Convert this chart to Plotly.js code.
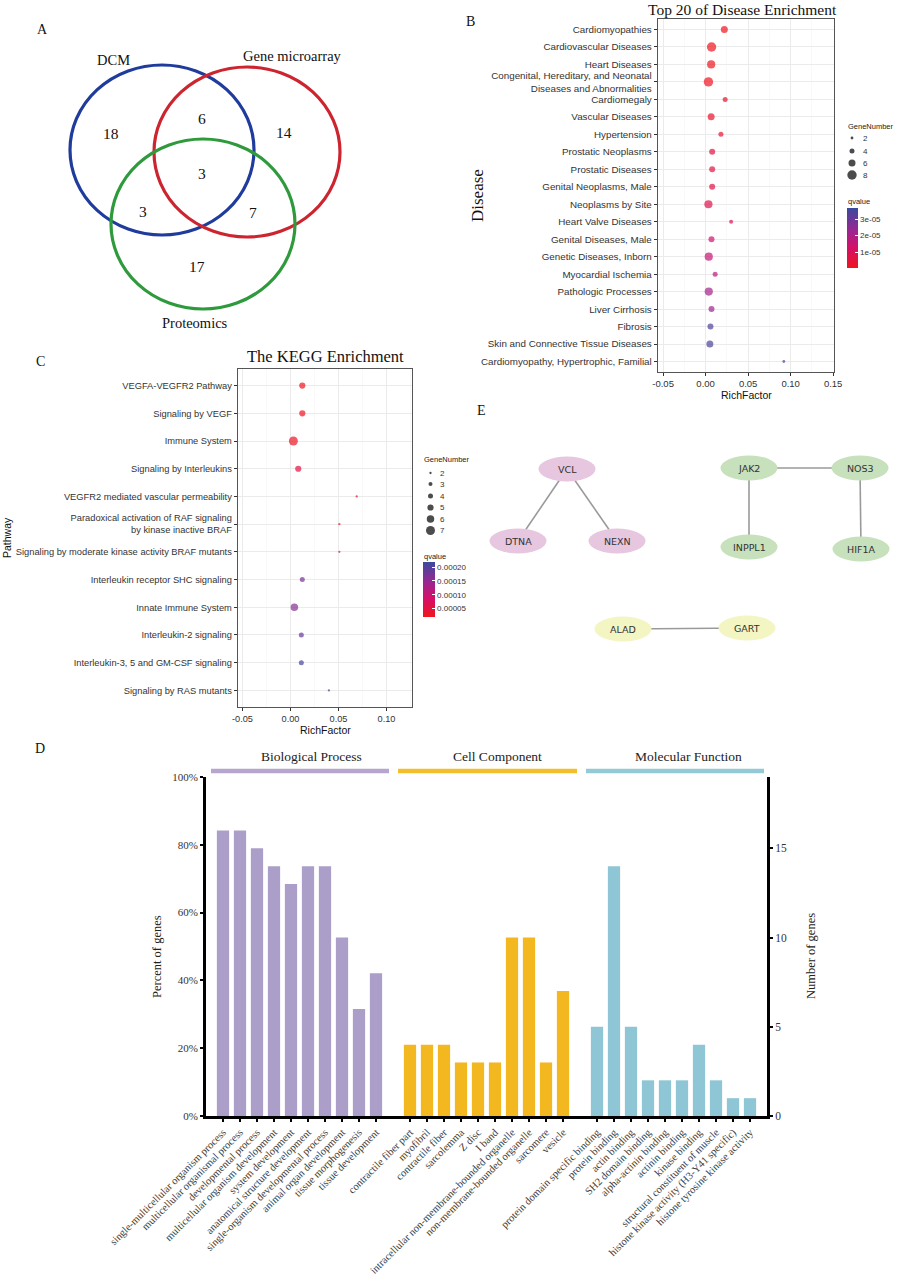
<!DOCTYPE html>
<html><head><meta charset="utf-8">
<script src="https://cdn.plot.ly/plotly-3.0.1.min.js"></script>
<style>html,body{margin:0;padding:0;background:#fff}#chart{width:903px;height:1280px}</style>
</head><body><div id="chart"></div>
<script>
// ================= DATA =================
// Panel A: Venn diagram
const vennSets = ['DCM', 'Gene microarray', 'Proteomics'];
const vennCounts = [18, 6, 14, 3, 3, 7, 17]; // DCM only, DCM&Gene, Gene only, all three, DCM&Prot, Gene&Prot, Prot only

// Panel B: Disease enrichment
const diseaseNames = ['Cardiomyopathies','Cardiovascular Diseases','Heart Diseases',
  'Congenital, Hereditary, and Neonatal<br>Diseases and Abnormalities','Cardiomegaly','Vascular Diseases',
  'Hypertension','Prostatic Neoplasms','Prostatic Diseases','Genital Neoplasms, Male','Neoplasms by Site',
  'Heart Valve Diseases','Genital Diseases, Male','Genetic Diseases, Inborn','Myocardial Ischemia',
  'Pathologic Processes','Liver Cirrhosis','Fibrosis','Skin and Connective Tissue Diseases',
  'Cardiomyopathy, Hypertrophic, Familial'];
const diseaseRich = [0.022,0.007,0.0065,0.0033,0.023,0.0065,0.018,0.0077,0.0077,0.0077,0.0033,
  0.030,0.0069,0.0037,0.0112,0.0037,0.0069,0.0057,0.005,0.092];
const diseaseGenes = [6,8,7,8,4,6,4,5,5,5,7,3,5,7,4,7,5,5,6,2];
const diseaseQ = [5e-7,5e-7,6e-7,8e-7,2e-6,2.5e-6,3.5e-6,6e-6,6.5e-6,7e-6,8e-6,9e-6,1.4e-5,1.5e-5,
  1.7e-5,2.1e-5,2.3e-5,3.3e-5,3.4e-5,3.5e-5];
const diseaseXTicks = [-0.05, 0, 0.05, 0.10, 0.15];
const diseaseXLabels = ['-0.05','0.00','0.05','0.10','0.15'];
const diseaseQTicks = [1e-5, 2e-5, 3e-5];
const diseaseQLabels = ['1e-05','2e-05','3e-05'];
const diseaseSizeLegend = [2, 4, 6, 8];

// Panel C: KEGG enrichment
const pathwayNames = ['VEGFA-VEGFR2 Pathway','Signaling by VEGF','Immune System','Signaling by Interleukins',
  'VEGFR2 mediated vascular permeability','Paradoxical activation of RAF signaling<br>by kinase inactive BRAF',
  'Signaling by moderate kinase activity BRAF mutants','Interleukin receptor SHC signaling',
  'Innate Immune System','Interleukin-2 signaling','Interleukin-3, 5 and GM-CSF signaling','Signaling by RAS mutants'];
const pathwayRich = [0.0123,0.0123,0.003,0.0081,0.069,0.0509,0.0509,0.0123,0.004,0.0113,0.0113,0.040];
const pathwayGenes = [5,5,7,5,2,2,2,4,6,4,4,2];
const pathwayQ = [2.2e-5,2.4e-5,2.6e-5,5e-5,3e-5,4e-5,4.5e-5,1.7e-4,1.6e-4,1.85e-4,2.1e-4,2.15e-4];
const pathwayXTicks = [-0.05, 0, 0.05, 0.10];
const pathwayXLabels = ['-0.05','0.00','0.05','0.10'];
const pathwayQTicks = [5e-5, 1e-4, 1.5e-4, 2e-4];
const pathwayQLabels = ['0.00005','0.00010','0.00015','0.00020'];
const pathwaySizeLegend = [2, 3, 4, 5, 6, 7];

// Panel D: GO classification
const groupNames = ['Biological Process','Cell Component','Molecular Function'];
const bpTerms = ['single-multicellular organism process','multicellular organismal process','developmental process',
  'multicellular organism development','system development','anatomical structure development',
  'single-organism developmental process','animal organ development','tissue morphogenesis','tissue development'];
const bpCounts = [16,16,15,14,13,14,14,10,6,8];
const ccTerms = ['contractile fiber part','myofibril','contractile fiber','sarcolemma','Z disc','I band',
  'intracellular non-membrane-bounded organelle','non-membrane-bounded organelle','sarcomere','vesicle'];
const ccCounts = [4,4,4,3,3,3,10,10,3,7];
const mfTerms = ['protein domain specific binding','protein binding','actin binding','SH2 domain binding',
  'alpha-actinin binding','actinin binding','kinase binding','structural constituent of muscle',
  'histone kinase activity (H3-Y41 specific)','histone tyrosine kinase activity'];
const mfCounts = [5,14,5,2,2,2,4,2,1,1];
const pctTicks = [0, 20, 40, 60, 80, 100];
const pctLabels = ['0%','20%','40%','60%','80%','100%'];
const countTicks = [0, 5, 10, 15];
const countLabels = ['0','5','10','15'];

// Panel E: PPI network
const nodeNames = ['VCL','DTNA','NEXN','JAK2','NOS3','INPPL1','HIF1A','ALAD','GART'];
const nodeCluster = [0,0,0,1,1,1,1,2,2];
const edgeList = [['VCL','DTNA'],['VCL','NEXN'],['JAK2','NOS3'],['JAK2','INPPL1'],['NOS3','HIF1A'],['ALAD','GART']];

// ================= LAYOUT / STYLE =================
const W = 903, H = 1280;
const pX = x => x / W, pY = y => 1 - y / H;
const SANS = 'Liberation Sans, Arial, sans-serif';
const SERIF = 'Liberation Serif, Times New Roman, serif';
const NODEF = 'DejaVu Sans, Verdana, sans-serif';
const qScale = [[0,'#f0141e'],[0.35,'#d3106a'],[0.62,'#9c2590'],[1,'#3a4a9f']];
const sizeB = {2:2.8,3:4,4:5,5:6,6:7,7:8.2,8:9.4};
const sizeC = {2:2.3,3:4,4:5,5:6.2,6:7.5,7:9};

const vennGeom = [
  {cx:162, cy:150, rx:92, ry:85, color:'#1f3c9c'},
  {cx:247, cy:152, rx:93, ry:85, color:'#cc2530'},
  {cx:203, cy:224, rx:92, ry:85, color:'#2e9a3c'}];
const vennSetLabelPos = [[113,60],[292,56],[195,323]];
const vennCountPos = [[111,133],[202,118],[284,132],[202,173],[143,211],[253,212],[197,266]];

const nodePos = {VCL:[567,469],DTNA:[518,541],NEXN:[617,541],JAK2:[749,468],NOS3:[860,468],
  INPPL1:[749,547],HIF1A:[861,549],ALAD:[623,629],GART:[747,628]};
const nodeFill = ['#e7c6e0','#c7e1bc','#f3f5c2'];

const shapes = [];
const annotations = [];
function ann(text, x, y, opts) {
  annotations.push(Object.assign({text, x, y, xref:'x6', yref:'y6', showarrow:false,
    xanchor:'center', yanchor:'middle', font:{family:SERIF, size:14, color:'#111'}}, opts || {}));
}

// Panel labels
ann('A', 42, 29, {font:{family:SERIF,size:14,color:'#111'}});
ann('B', 470, 21, {font:{family:SERIF,size:14,color:'#111'}});
ann('C', 40, 361, {font:{family:SERIF,size:14,color:'#111'}});
ann('D', 40, 748, {font:{family:SERIF,size:14,color:'#111'}});
ann('E', 481, 410, {font:{family:SERIF,size:14,color:'#111'}});

// Venn
vennGeom.forEach(g => shapes.push({type:'circle', xref:'x6', yref:'y6', x0:g.cx-g.rx, x1:g.cx+g.rx,
  y0:g.cy-g.ry, y1:g.cy+g.ry, line:{color:g.color, width:3.2}}));
vennSets.forEach((s,i) => ann(s, vennSetLabelPos[i][0], vennSetLabelPos[i][1], {font:{family:SERIF,size:14.5,color:'#111'}}));
vennCounts.forEach((c,i) => ann(String(c), vennCountPos[i][0], vennCountPos[i][1], {font:{family:SERIF,size:15.5,color:'#111'}}));

// Panel B texts
ann('Top 20 of Disease Enrichment', 742, 9, {font:{family:SERIF,size:15.5,color:'#111'}});
ann('Disease', 477, 196, {textangle:-90, font:{family:SERIF,size:17,color:'#111'}});
ann('RichFactor', 746, 395, {font:{family:SANS,size:10.5,color:'#111'}});
ann('GeneNumber', 846, 126, {xanchor:'left', font:{family:SANS,size:7.5,color:'#222'}});
ann('qvalue', 846, 201, {xanchor:'left', font:{family:SANS,size:7.5,color:'#222'}});
const bLegY = [138,151,163,175];
diseaseSizeLegend.forEach((v,i) => ann(String(v), 861, bLegY[i], {xanchor:'left', font:{family:SANS,size:8,color:'#333'}}));

// Panel C texts
ann('The KEGG Enrichment', 325, 356, {font:{family:SERIF,size:16.5,color:'#111'}});
ann('Pathway', 7, 538, {textangle:-90, font:{family:SANS,size:10.5,color:'#111'}});
ann('RichFactor', 325, 730, {font:{family:SANS,size:10.5,color:'#111'}});
ann('GeneNumber', 422, 459, {xanchor:'left', font:{family:SANS,size:7.5,color:'#222'}});
ann('qvalue', 422, 556, {xanchor:'left', font:{family:SANS,size:7.5,color:'#222'}});
const cLegY = [473,484,496,507.5,519,530.5];
pathwaySizeLegend.forEach((v,i) => ann(String(v), 438, cLegY[i], {xanchor:'left', font:{family:SANS,size:8,color:'#333'}}));

// Panel D header bars and texts
const headerGeom = [[211,389,311,'#b6a6cf'],[398,577,497,'#f2bf2a'],[586,764,688,'#94c9d6']];
groupNames.forEach((g,i) => {
  const h = headerGeom[i];
  shapes.push({type:'line', xref:'x6', yref:'y6', x0:h[0], x1:h[1], y0:771, y1:771, line:{color:h[3], width:4.5}});
  ann(g, h[2], 756, {font:{family:SERIF,size:13.5,color:'#222'}});
});
ann('Percent of genes', 157, 957, {textangle:-90, font:{family:SERIF,size:12.5,color:'#222'}});
ann('Number of genes', 811, 956, {textangle:-90, font:{family:SERIF,size:12.5,color:'#222'}});

// Panel E nodes
nodeNames.forEach((n,i) => {
  const [cx,cy] = nodePos[n];
  shapes.push({type:'circle', xref:'x6', yref:'y6', x0:cx-28.5, x1:cx+28.5, y0:cy-12.5, y1:cy+12.5,
    fillcolor:nodeFill[nodeCluster[i]], line:{width:0}, layer:'above'});
  ann(n, cx, cy, {font:{family:NODEF,size:9.5,color:'#333'}});
});

// ================= TRACES =================
const traces = [];
// B
traces.push({type:'scatter', mode:'markers', x:diseaseRich, y:diseaseNames, xaxis:'x2', yaxis:'y2',
  marker:{size:diseaseGenes.map(g=>sizeB[g]), color:diseaseQ, coloraxis:'coloraxis', line:{width:0}}, hoverinfo:'x+y'});
traces.push({type:'scatter', mode:'markers', x:diseaseSizeLegend.map(()=>852), y:bLegY, xaxis:'x6', yaxis:'y6',
  marker:{size:diseaseSizeLegend.map(g=>sizeB[g]), color:'#000', line:{width:0}}, hoverinfo:'skip'});
// C
traces.push({type:'scatter', mode:'markers', x:pathwayRich, y:pathwayNames, xaxis:'x3', yaxis:'y3',
  marker:{size:pathwayGenes.map(g=>sizeC[g]), color:pathwayQ, coloraxis:'coloraxis2', line:{width:0}}, hoverinfo:'x+y'});
traces.push({type:'scatter', mode:'markers', x:pathwaySizeLegend.map(()=>430.5), y:cLegY, xaxis:'x6', yaxis:'y6',
  marker:{size:pathwaySizeLegend.map(g=>sizeC[g]), color:'#000', line:{width:0}}, hoverinfo:'skip'});
// D
const groups = [[bpTerms,bpCounts,'#ab9ec9'],[ccTerms,ccCounts,'#f3b71f'],[mfTerms,mfCounts,'#8fc6d5']];
const dTickVals = [], dTickText = [];
groups.forEach((g,gi) => {
  const xs = g[0].map((t,i) => gi*11 + i);
  xs.forEach((x,i) => {dTickVals.push(x); dTickText.push(g[0][i]);});
  traces.push({type:'bar', x:xs, y:g[1], width:0.72, xaxis:'x4', yaxis:'y5', marker:{color:g[2], line:{width:0}},
    hovertext:g[0], hoverinfo:'text+y'});
});
traces.push({type:'scatter', x:[], y:[], xaxis:'x4', yaxis:'y4', hoverinfo:'skip'});
// E edges
const ex = [], ey = [];
edgeList.forEach(([a,b]) => {ex.push(nodePos[a][0], nodePos[b][0], null); ey.push(nodePos[a][1], nodePos[b][1], null);});
traces.push({type:'scatter', mode:'lines', x:ex, y:ey, xaxis:'x6', yaxis:'y6', line:{color:'#9a9a9a', width:1.6}, hoverinfo:'skip'});

// ================= AXES =================
const dotX = (dom, rng, tv, tt, minorV) => ({domain:dom, range:rng, anchor:null, tickvals:tv, ticktext:tt,
  ticks:'outside', ticklen:2.5, tickcolor:'#333', tickwidth:1, showline:true, mirror:true, linecolor:'#555', linewidth:1.3,
  showgrid:true, gridcolor:'#ebebeb', gridwidth:1, zeroline:false,
  minor:{tickvals:minorV, showgrid:true, gridcolor:'#f5f5f5', gridwidth:0.6, ticks:''},
  tickfont:{family:SANS, size:9.5, color:'#333'}, fixedrange:true});
const dotY = (dom, cats, fs) => ({domain:dom, type:'category', categoryorder:'array', categoryarray:cats,
  range:[cats.length-0.4, -0.6], ticks:'outside', ticklen:3, tickcolor:'#333', showline:true, mirror:true,
  linecolor:'#555', linewidth:1.3, showgrid:true, gridcolor:'#ebebeb', gridwidth:1, zeroline:false,
  tickfont:{family:SANS, size:fs, color:'#333'}, fixedrange:true});

const xaxis2 = dotX([pX(658),pX(834)], [-0.056,0.151], diseaseXTicks, diseaseXLabels, [-0.025,0.025,0.075,0.125]);
xaxis2.anchor = 'y2';
const yaxis2 = dotY([pY(372),pY(19)], diseaseNames, 9.8); yaxis2.anchor = 'x2';
const xaxis3 = dotX([pX(238),pX(412)], [-0.0547,0.1266], pathwayXTicks, pathwayXLabels, [-0.025,0.025,0.075,0.125]);
xaxis3.anchor = 'y3'; xaxis3.tickfont.size = 9.2;
const yaxis3 = dotY([pY(707),pY(369)], pathwayNames, 9.3); yaxis3.anchor = 'x3';

const layout = {
  width:W, height:H, margin:{l:0,r:0,t:0,b:0}, paper_bgcolor:'#fff', plot_bgcolor:'rgba(0,0,0,0)',
  showlegend:false, font:{family:SANS}, hovermode:'closest',
  xaxis2, yaxis2, xaxis3, yaxis3,
  xaxis4:{domain:[pX(206),pX(767)], range:[-1,32], anchor:'y4', tickvals:dTickVals, ticktext:dTickText,
    tickangle:-45, ticks:'outside', ticklen:3, tickwidth:1.5, tickcolor:'#000', showline:true, linewidth:3,
    linecolor:'#000', showgrid:false, zeroline:false, tickfont:{family:SERIF, size:10.6, color:'#3a3a3a'}, fixedrange:true},
  yaxis4:{domain:[pY(1116),pY(777)], range:[0,100], anchor:'x4', tickvals:pctTicks, ticktext:pctLabels,
    ticks:'outside', ticklen:3, tickwidth:2, tickcolor:'#000', showline:true, linewidth:3, linecolor:'#000',
    showgrid:false, zeroline:false, tickfont:{family:SERIF, size:11, color:'#333'}, fixedrange:true},
  yaxis5:{overlaying:'y4', side:'right', anchor:'x4', range:[0,19], tickvals:countTicks, ticktext:countLabels,
    ticks:'outside', ticklen:3, tickwidth:2, tickcolor:'#000', showline:true, linewidth:3, linecolor:'#000',
    showgrid:false, zeroline:false, tickfont:{family:SERIF, size:11.5, color:'#333'}, fixedrange:true},
  xaxis6:{domain:[0,1], range:[0,W], anchor:'y6', visible:false, fixedrange:true},
  yaxis6:{domain:[0,1], range:[H,0], anchor:'x6', visible:false, fixedrange:true},
  coloraxis:{colorscale:qScale, cmin:3e-7, cmax:3.67e-5, colorbar:{x:pX(847), xanchor:'left', y:pY(208), yanchor:'top',
    len:60, lenmode:'pixels', thickness:11, thicknessmode:'pixels', xpad:0, ypad:0, outlinewidth:0,
    tickvals:diseaseQTicks, ticktext:diseaseQLabels, ticks:'inside', ticklen:3, tickcolor:'#fff',
    tickfont:{family:SANS, size:8, color:'#333'}, title:{text:''}}},
  coloraxis2:{colorscale:qScale, cmin:2e-5, cmax:2.18e-4, colorbar:{x:pX(423), xanchor:'left', y:pY(562), yanchor:'top',
    len:55, lenmode:'pixels', thickness:12, thicknessmode:'pixels', xpad:0, ypad:0, outlinewidth:0,
    tickvals:pathwayQTicks, ticktext:pathwayQLabels, ticks:'inside', ticklen:3, tickcolor:'#fff',
    tickfont:{family:SANS, size:8, color:'#333'}, title:{text:''}}},
  shapes, annotations
};

Plotly.newPlot('chart', traces, layout, {staticPlot:true, displayModeBar:false});
</script></body></html>
